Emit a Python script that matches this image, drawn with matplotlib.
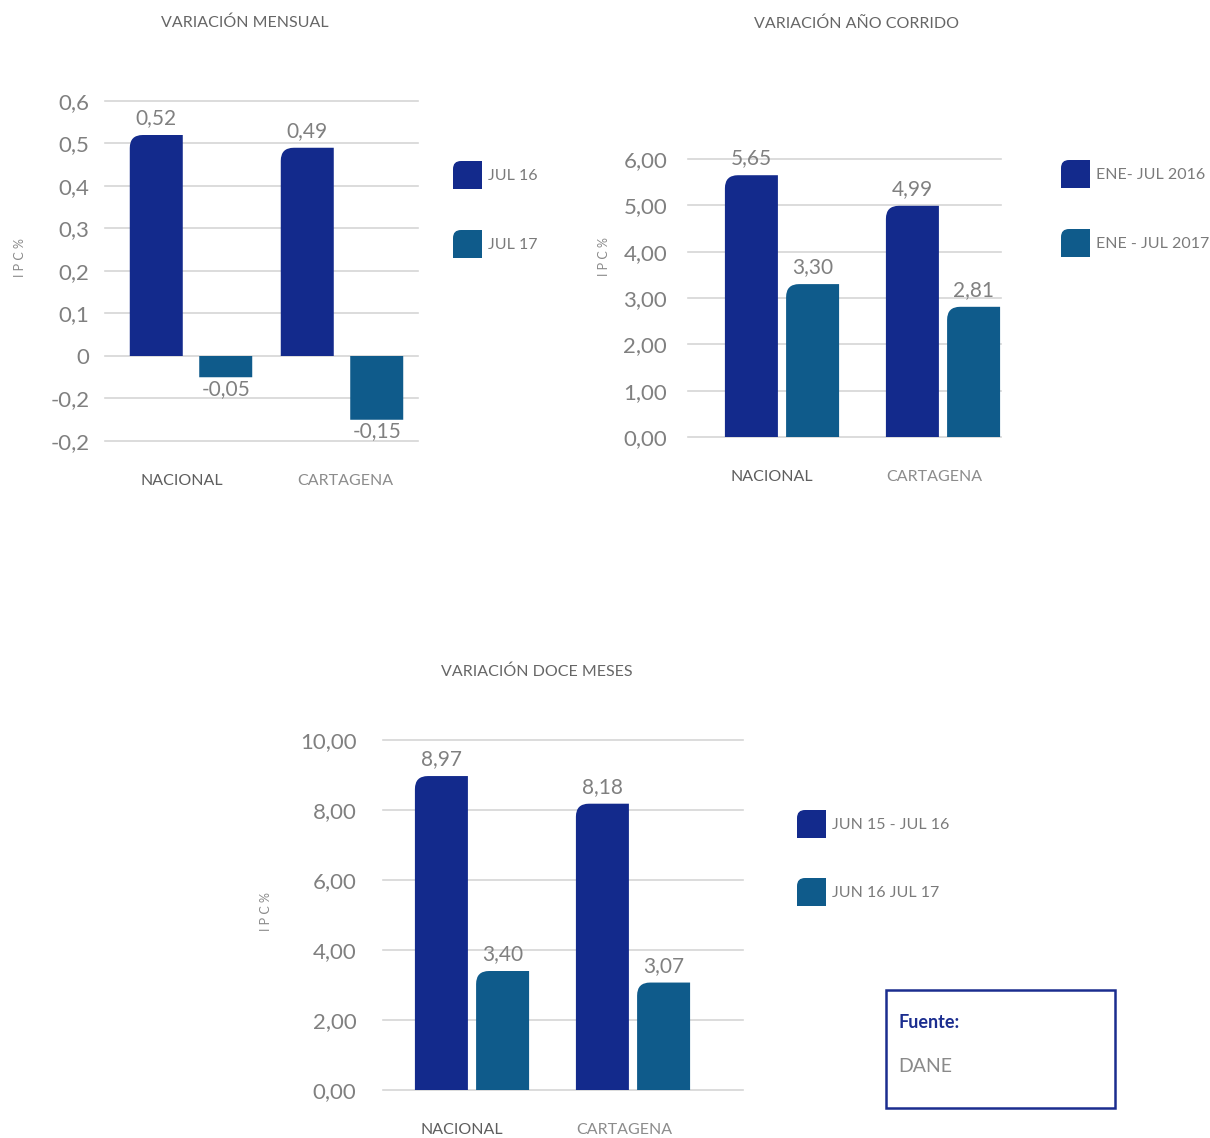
import numpy as np
import matplotlib
import matplotlib.pyplot as plt
from matplotlib.path import Path
from matplotlib.patches import PathPatch, Rectangle

plt.rcParams['font.family'] = ['Lato', 'DejaVu Sans']

W, H = 1210, 1138

categories = ['NACIONAL', 'CARTAGENA']

# variación mensual
mensual_jul16 = [0.52, 0.49]
mensual_jul17 = [-0.05, -0.15]
mensual_ticks = [-0.2, -0.1, 0, 0.1, 0.2, 0.3, 0.4, 0.5, 0.6]
mensual_ticklabels = ['-0,2', '-0,2', '0', '0,1', '0,2', '0,3', '0,4', '0,5', '0,6']

# variación año corrido
anio_2016 = [5.65, 4.99]
anio_2017 = [3.30, 2.81]
anio_ticks = [0, 1, 2, 3, 4, 5, 6]
anio_ticklabels = ['0,00', '1,00', '2,00', '3,00', '4,00', '5,00', '6,00']

# variación doce meses
doce_1516 = [8.97, 8.18]
doce_1617 = [3.40, 3.07]
doce_ticks = [0, 2, 4, 6, 8, 10]
doce_ticklabels = ['0,00', '2,00', '4,00', '6,00', '8,00', '10,00']

BLUE = '#132a8c'
TEAL = '#0f5b8b'
GRAY = '#808080'
GRID = '#d6d6d6'


def fx(x):
    return x / W


def fy(y):
    return 1 - y / H


def rounded_path(x0, y0, w, h, rx, ry, corner):
    # rectangle with only one rounded corner ('tl' or 'br'), y pointing up
    x1, y1 = x0 + w, y0 + h
    if corner == 'tl':
        verts = [(x0, y0), (x1, y0), (x1, y1), (x0 + rx, y1),
                 (x0, y1), (x0, y1 - ry), (x0, y0)]
    else:
        verts = [(x0, y1), (x1, y1), (x1, y0 + ry), (x1, y0),
                 (x1 - rx, y0), (x0, y0), (x0, y1)]
    codes = [Path.MOVETO, Path.LINETO, Path.LINETO, Path.LINETO,
             Path.CURVE3, Path.CURVE3, Path.CLOSEPOLY]
    return Path(verts, codes)


def round_bars(ax, bars, color, r_px=13):
    p0 = ax.transData.transform((0, 0))
    p1 = ax.transData.transform((1, 1))
    rx = r_px / (p1[0] - p0[0])
    ry = r_px / (p1[1] - p0[1])
    for rect in bars:
        x, w, h = rect.get_x(), rect.get_width(), rect.get_height()
        rect.set_visible(False)
        if h >= 0:
            path = rounded_path(x, 0, w, h, rx, min(ry, h), 'tl')
        else:
            path = rounded_path(x, h, w, -h, rx, min(ry, -h), 'br')
        ax.add_patch(PathPatch(path, facecolor=color, edgecolor='none', zorder=3))


def make_chart(fig, box, s1, s2, ticks, ticklabels, ylim, group_px, off, label_px, ypad):
    x0, x1, ytop, ybot = box
    ax = fig.add_axes([fx(x0), fy(ybot), (x1 - x0) / W, (ybot - ytop) / H])
    c0, step = group_px
    ax.set_xlim((x0 - c0) / step, (x1 - c0) / step)
    ax.set_ylim(*ylim)
    xs = np.arange(len(categories))
    bw = 53 / step
    b1 = ax.bar(xs - off, s1, bw, color=BLUE)
    b2 = ax.bar(xs + off, s2, bw, color=TEAL)
    round_bars(ax, b1, BLUE)
    round_bars(ax, b2, TEAL)
    for bars, vals in ((b1, s1), (b2, s2)):
        for rect, v in zip(bars, vals):
            cx = rect.get_x() + rect.get_width() / 2
            txt = f'{v:.2f}'.replace('.', ',')
            if v >= 0:
                ax.annotate(txt, (cx, v), xytext=(0, 5), textcoords='offset points',
                            ha='center', va='bottom', fontsize=15, color=GRAY, zorder=4)
            else:
                ax.annotate(txt, (cx, v), xytext=(0, -1), textcoords='offset points',
                            ha='center', va='top', fontsize=15, color=GRAY, zorder=4)
    for s in ax.spines.values():
        s.set_visible(False)
    ax.set_yticks(ticks)
    ax.set_yticklabels(ticklabels)
    ax.yaxis.grid(True, color=GRID, lw=1.2)
    for line in ax.get_ygridlines():
        line.set_clip_on(False)
    ax.set_axisbelow(True)
    ax.tick_params(axis='y', length=0, labelsize=16, labelcolor=GRAY, pad=ypad)
    ax.set_xticks([(p - c0) / step for p in label_px])
    ax.set_xticklabels(categories)
    ax.tick_params(axis='x', length=0, labelsize=11.5, pad=24)
    xl = ax.get_xticklabels()
    xl[0].set_color('#5e5e5e')
    xl[1].set_color('#8c8c8c')
    return ax


def legend_square(fig, x, y, color):
    path = rounded_path(fx(x), fy(y + 28), 29 / W, 28 / H, 8 / W, 8 / H, 'tl')
    fig.add_artist(PathPatch(path, facecolor=color, edgecolor='none',
                             transform=fig.transFigure))


fig = plt.figure(figsize=(W / 100, H / 100), dpi=100)

make_chart(fig, (105, 418, 101, 441), mensual_jul16, mensual_jul17,
           mensual_ticks, mensual_ticklabels, (-0.2, 0.6), (191, 151), 0.23, (182, 345), 11)
make_chart(fig, (688, 1001, 159, 437), anio_2016, anio_2017,
           anio_ticks, anio_ticklabels, (0, 6), (782, 161), 0.19, (772, 934), 15)
make_chart(fig, (383, 743, 740, 1090), doce_1516, doce_1617,
           doce_ticks, doce_ticklabels, (0, 10), (472, 161), 0.19, (462, 624), 19)

# titles
fig.text(fx(245), fy(23), 'VARIACIÓN MENSUAL', ha='center', va='center', fontsize=11.5, color='#666666')
fig.text(fx(856), fy(24), 'VARIACIÓN AÑO CORRIDO', ha='center', va='center', fontsize=11.5, color='#666666')
fig.text(fx(537), fy(672), 'VARIACIÓN DOCE MESES', ha='center', va='center', fontsize=11.5, color='#666666')

# y labels
for x, y in ((20, 258), (604, 257), (266, 912)):
    fig.text(fx(x), fy(y), 'I P C %', rotation=90, ha='center', va='center', fontsize=9, color='#8a8a8a')

# legends
legends = [
    (453, 161, 230, 488, 'JUL 16', 'JUL 17'),
    (1061, 160, 229, 1096, 'ENE- JUL 2016', 'ENE - JUL 2017'),
    (797, 810, 878, 832, 'JUN 15 - JUL 16', 'JUN 16 JUL 17'),
]
for sx, y1, y2, tx, l1, l2 in legends:
    legend_square(fig, sx, y1, BLUE)
    legend_square(fig, sx, y2, TEAL)
    fig.text(fx(tx), fy(y1 + 15), l1, ha='left', va='center', fontsize=11.5, color='#7a7a7a')
    fig.text(fx(tx), fy(y2 + 15), l2, ha='left', va='center', fontsize=11.5, color='#7a7a7a')

# source box
fig.add_artist(Rectangle((fx(886), fy(1108)), 229 / W, 118 / H, fill=False,
                         edgecolor='#1b2d8f', lw=1.8, transform=fig.transFigure))
fig.text(fx(898), fy(1023), 'Fuente:', ha='left', va='center', fontsize=13,
         fontweight='bold', color='#1b2d8f')
fig.text(fx(898), fy(1066), 'DANE', ha='left', va='center', fontsize=14, color='#8a8a8a')

fig.savefig('out.png', dpi=100)
